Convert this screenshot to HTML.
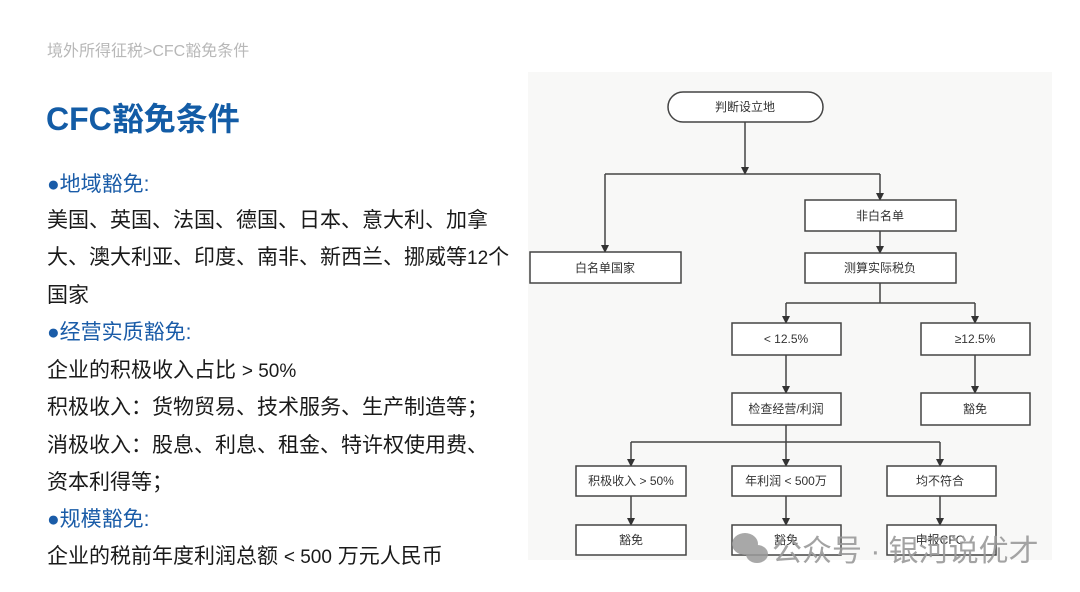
<!DOCTYPE html>
<html><head><meta charset="utf-8"><style>
body{margin:0;width:1080px;height:592px;background:#fff;position:relative;overflow:hidden;font-family:"Liberation Sans","Noto Sans CJK SC",sans-serif;}
.t{position:absolute;white-space:nowrap;}
.l{position:absolute;left:47px;font-size:21px;color:#1a1a1a;white-space:nowrap;line-height:24px;}
.l span{font-size:19px;}
.b{color:#1a5ca8;}
</style></head><body>
<div class="t" style="left:47px;top:37px;font-size:16px;color:#b8b8b8;">境外所得征税&gt;CFC豁免条件</div>
<div class="t" style="left:46px;top:94px;font-size:32px;font-weight:bold;color:#135ca6;">CFC豁免条件</div>
<div class="l b" style="top:173px;">●地域豁免:</div>
<div class="l" style="top:209px;">美国、英国、法国、德国、日本、意大利、加拿</div>
<div class="l" style="top:246px;">大、澳大利亚、印度、南非、新西兰、挪威等<span>12</span>个</div>
<div class="l" style="top:284px;">国家</div>
<div class="l b" style="top:321px;">●经营实质豁免:</div>
<div class="l" style="top:359px;">企业的积极收入占比 <span>&gt; 50%</span></div>
<div class="l" style="top:396px;">积极收入：货物贸易、技术服务、生产制造等；</div>
<div class="l" style="top:434px;">消极收入：股息、利息、租金、特许权使用费、</div>
<div class="l" style="top:471px;">资本利得等；</div>
<div class="l b" style="top:508px;">●规模豁免:</div>
<div class="l" style="top:545px;">企业的税前年度利润总额 <span>&lt; 500</span> 万元人民币</div>

<svg style="position:absolute;left:0;top:0" width="1080" height="592" font-family="Liberation Sans, Noto Sans CJK SC, sans-serif" font-size="12" fill="#333">
<defs><marker id="a" markerWidth="8" markerHeight="8" refX="7" refY="4" orient="auto" markerUnits="userSpaceOnUse"><path d="M0,0 L8,4 L0,8 z" fill="#333"/></marker></defs>
<rect x="528" y="72" width="524" height="488" fill="#f8f8f7"/>
<g stroke="#444" stroke-width="1.5" fill="none">
<rect x="668" y="92" width="155" height="30" rx="15" fill="#fff"/>
<path d="M745 122 V174" marker-end="url(#a)"/>
<path d="M605 174 H880"/>
<path d="M605 174 V252" marker-end="url(#a)"/>
<path d="M880 174 V200" marker-end="url(#a)"/>
<rect x="530" y="252" width="151" height="31" fill="#fff"/>
<rect x="805" y="200" width="151" height="31" fill="#fff"/>
<path d="M880 231 V253" marker-end="url(#a)"/>
<rect x="805" y="253" width="151" height="30" fill="#fff"/>
<path d="M880 283 V303 M786 303 H975"/>
<path d="M786 303 V323" marker-end="url(#a)"/>
<path d="M975 303 V323" marker-end="url(#a)"/>
<rect x="732" y="323" width="109" height="32" fill="#fff"/>
<rect x="921" y="323" width="109" height="32" fill="#fff"/>
<path d="M786 355 V393" marker-end="url(#a)"/>
<path d="M975 355 V393" marker-end="url(#a)"/>
<rect x="732" y="393" width="109" height="32" fill="#fff"/>
<rect x="921" y="393" width="109" height="32" fill="#fff"/>
<path d="M786 425 V466" marker-end="url(#a)"/>
<path d="M631 442 H940"/>
<path d="M631 442 V466" marker-end="url(#a)"/>
<path d="M940 442 V466" marker-end="url(#a)"/>
<rect x="576" y="466" width="110" height="30" fill="#fff"/>
<rect x="732" y="466" width="109" height="30" fill="#fff"/>
<rect x="887" y="466" width="109" height="30" fill="#fff"/>
<path d="M631 496 V525" marker-end="url(#a)"/>
<path d="M786 496 V525" marker-end="url(#a)"/>
<path d="M940 496 V525" marker-end="url(#a)"/>
<rect x="576" y="525" width="110" height="30" fill="#fff"/>
<rect x="732" y="525" width="109" height="30" fill="#fff"/>
<rect x="887" y="525" width="109" height="30" fill="#fff"/>
</g>
<g text-anchor="middle">
<text x="745" y="111">判断设立地</text>
<text x="605" y="272">白名单国家</text>
<text x="880" y="220">非白名单</text>
<text x="880" y="272">测算实际税负</text>
<text x="786" y="343">&lt; 12.5%</text>
<text x="975" y="343">≥12.5%</text>
<text x="786" y="413">检查经营/利润</text>
<text x="975" y="413">豁免</text>
<text x="631" y="485">积极收入 &gt; 50%</text>
<text x="786" y="485">年利润 &lt; 500万</text>
<text x="940" y="485">均不符合</text>
<text x="631" y="544">豁免</text>
<text x="786" y="544">豁免</text>
<text x="940" y="544">申报CFC</text>
</g>
<g fill="#9a9a9a" opacity="0.85">
<ellipse cx="745" cy="544" rx="13" ry="11"/>
<ellipse cx="757" cy="554" rx="11" ry="9"/>
</g>
<text x="772" y="561" font-size="30" fill="#9a9a9a" opacity="0.9">公众号 · 银河说优才</text>
</svg>
</body></html>
